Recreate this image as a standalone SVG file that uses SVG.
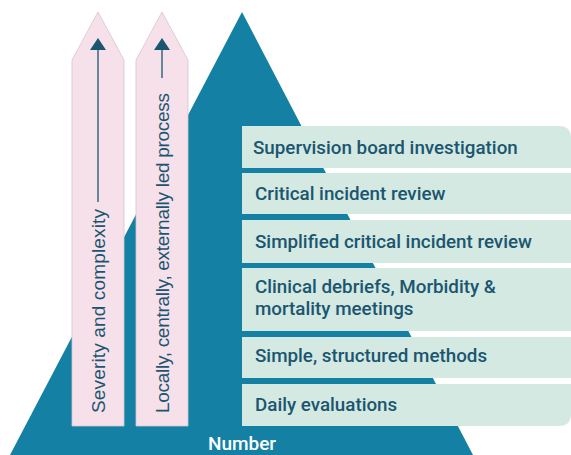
<svg xmlns="http://www.w3.org/2000/svg" width="571" height="455" viewBox="0 0 571 455">
<style>
.tri{fill:#1380a4}
.pink{fill:#f6e0ea;stroke:#d9c3cf;stroke-width:0.8}
.box{fill:#d3e9e1}
.lbl{font-family:Roboto,"Liberation Sans",sans-serif;font-weight:500;font-size:18.8px;fill:#1b5670}
.rot{font-family:"Liberation Sans",Arial,sans-serif;font-size:19px;fill:#1b5670}
.num{font-family:Roboto,"Liberation Sans",sans-serif;font-weight:500;font-size:19px;fill:#ffffff}
.ln{stroke:#1b5670;stroke-width:1.3;fill:none}
.head{fill:#1b5670}
</style>
<g id="pyramid">
<polygon class="tri" points="242,12 473,455 10,455"/>
<text class="num" x="242" y="450" text-anchor="middle">Number</text>
</g>
<g id="arrow-severity">
<polygon class="pink" points="72,60 98,12 124,60 124,426 72,426"/>
<text class="rot" transform="translate(105,413) rotate(-90)" textLength="204" lengthAdjust="spacing">Severity and complexity</text>
</g>
<g id="arrow-process">
<polygon class="pink" points="136,60 162,12 188,60 188,426 136,426"/>
<text class="rot" transform="translate(169,413) rotate(-90)" textLength="320" lengthAdjust="spacing">Locally, centrally, externally led process</text>
</g>
<g id="connectors">
<path class="ln" d="M98,202 V48"/>
<polygon class="head" points="90,50 98,38 106,50"/>
<path class="ln" d="M162,78 V48"/>
<polygon class="head" points="154,50 162,38 170,50"/>
</g>
<g id="box1">
<path class="box" d="M242,126 H559 Q571,126 571,138 V168 H242 Z"/>
<text class="lbl" x="253" y="154">Supervision board investigation</text>
</g>
<g id="box2">
<rect class="box" x="242" y="173" width="329" height="41"/>
<text class="lbl" x="255" y="200">Critical incident review</text>
</g>
<g id="box3">
<rect class="box" x="242" y="220" width="329" height="43"/>
<text class="lbl" x="255" y="248">Simplified critical incident review</text>
</g>
<g id="box4">
<rect class="box" x="242" y="268" width="329" height="63"/>
<text class="lbl" x="255" y="293">Clinical debriefs, Morbidity &amp;</text>
<text class="lbl" x="255" y="315">mortality meetings</text>
</g>
<g id="box5">
<rect class="box" x="242" y="337" width="329" height="41"/>
<text class="lbl" x="255" y="362">Simple, structured methods</text>
</g>
<g id="box6">
<path class="box" d="M242,384 H571 V414 Q571,426 559,426 H242 Z"/>
<text class="lbl" x="255" y="411">Daily evaluations</text>
</g>
</svg>
